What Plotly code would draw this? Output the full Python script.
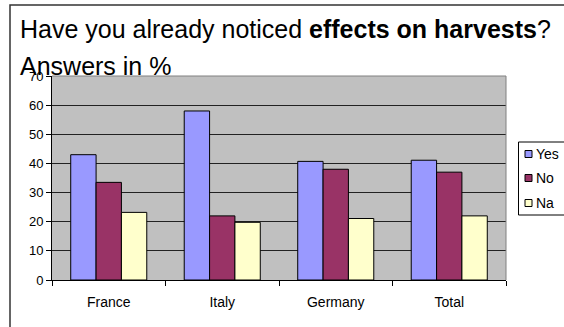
import plotly.graph_objects as go

categories = ["France", "Italy", "Germany", "Total"]
series_names = ["Yes", "No", "Na"]
yes_values = [43, 58, 40.7, 41.1]
no_values = [33.5, 22, 38, 37]
na_values = [23.2, 19.8, 21.1, 22]
series_values = [yes_values, no_values, na_values]
series_colors = ["#9999FF", "#993366", "#FFFFCC"]
y_ticks = [0, 10, 20, 30, 40, 50, 60, 70]

W, H = 564, 327
ML, MR, MT, MB = 52, 58, 76, 47
PW = W - ML - MR
PH = H - MT - MB

def px_x(p):
    return (p - ML) / PW

def px_y(p):
    return (H - MB - p) / PH

fig = go.Figure()
for name, vals, col in zip(series_names, series_values, series_colors):
    fig.add_trace(go.Bar(
        x=categories, y=vals, name=name,
        marker=dict(color=col, line=dict(color="#000000", width=1)),
        showlegend=False,
    ))

shapes = []
annotations = []
# outer chart border (left + top visible)
shapes.append(dict(type="rect", xref="paper", yref="paper",
                   x0=px_x(10), x1=px_x(600), y0=px_y(360), y1=px_y(5),
                   line=dict(color="#333333", width=1.5), fillcolor="rgba(0,0,0,0)"))
# plot-area gray border on top/right
shapes.append(dict(type="line", xref="paper", yref="paper", x0=0, x1=1, y0=1, y1=1,
                   line=dict(color="#808080", width=1)))
shapes.append(dict(type="line", xref="paper", yref="paper", x0=1, x1=1, y0=0, y1=1,
                   line=dict(color="#808080", width=1)))
# legend box
shapes.append(dict(type="rect", xref="paper", yref="paper",
                   x0=px_x(518.5), x1=px_x(600), y0=px_y(215), y1=px_y(142),
                   line=dict(color="#000000", width=1), fillcolor="#FFFFFF"))
row_y = [154, 178, 203]
for name, col, ry in zip(series_names, series_colors, row_y):
    shapes.append(dict(type="rect", xref="paper", yref="paper",
                       x0=px_x(525), x1=px_x(532), y0=px_y(ry + 3.5), y1=px_y(ry - 3.5),
                       line=dict(color="#000000", width=1), fillcolor=col))
    annotations.append(dict(text=name, xref="paper", yref="paper",
                            x=px_x(534), y=px_y(ry), xanchor="left", yanchor="middle",
                            showarrow=False, font=dict(size=14, color="#000000")))

annotations.append(dict(
    text="Have you already noticed <b>effects on harvests</b>?",
    xref="paper", yref="paper", x=px_x(18), y=px_y(29),
    xanchor="left", yanchor="middle", showarrow=False,
    font=dict(size=25, color="#000000")))
annotations.append(dict(
    text="Answers in %",
    xref="paper", yref="paper", x=px_x(18), y=px_y(66),
    xanchor="left", yanchor="middle", showarrow=False,
    font=dict(size=25, color="#000000")))

fig.update_layout(
    width=W, height=H,
    margin=dict(l=ML, r=MR, t=MT, b=MB, pad=0),
    paper_bgcolor="#FFFFFF",
    plot_bgcolor="#C0C0C0",
    barmode="group",
    bargap=0.33,
    bargroupgap=0,
    font=dict(family="Liberation Sans, Arial, sans-serif", color="#000000"),
    shapes=shapes,
    annotations=annotations,
    showlegend=False,
)
fig.update_xaxes(
    type="category",
    showline=True, linecolor="#000000", linewidth=1,
    ticks="outside", tickson="boundaries", ticklen=5, tickcolor="#000000",
    tickfont=dict(size=14),
    ticklabelstandoff=9,
    showgrid=False, mirror=False,
)
fig.update_yaxes(
    range=[0, 70],
    tickvals=y_ticks,
    showline=True, linecolor="#000000", linewidth=1,
    ticks="outside", ticklen=5, tickcolor="#000000",
    tickfont=dict(size=13),
    showgrid=True, gridcolor="#222222", gridwidth=1,
    zeroline=False,
)

fig.write_html("out.html")
